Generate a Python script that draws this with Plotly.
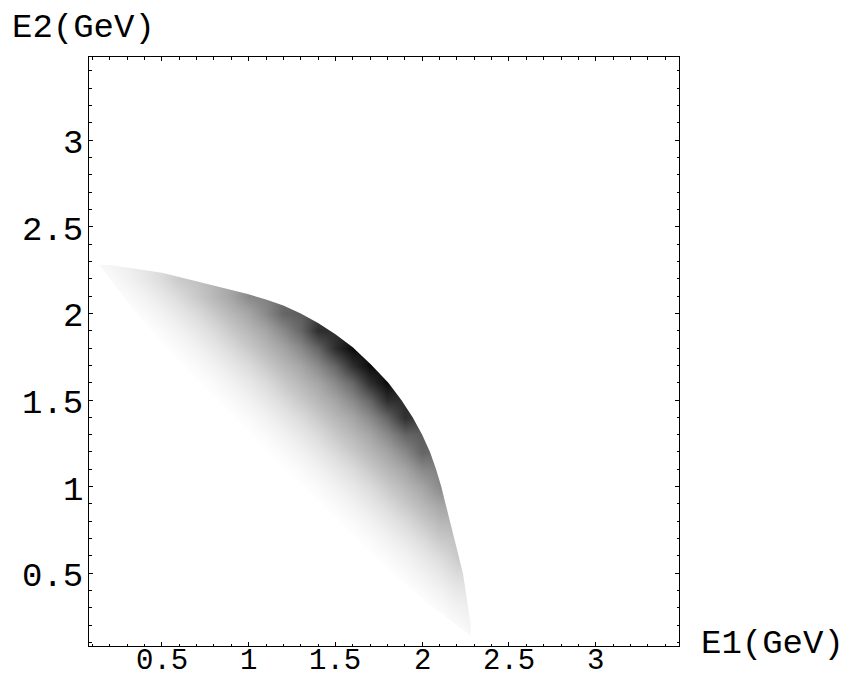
import plotly.graph_objects as go

# Grid of the density plot (GeV)
e1_grid = [0.1, 0.2, 0.3, 0.4, 0.5, 0.6, 0.7, 0.8, 0.9, 1.0, 1.1, 1.2,
           1.3, 1.4, 1.5, 1.6, 1.7, 1.8, 1.9, 2.0, 2.1, 2.2, 2.3, 2.4]
e2_grid = [0.1, 0.2, 0.3, 0.4, 0.5, 0.6, 0.7, 0.8, 0.9, 1.0, 1.1, 1.2,
           1.3, 1.4, 1.5, 1.6, 1.7, 1.8, 1.9, 2.0, 2.1, 2.2, 2.3, 2.4]

ramp = [0.0, 0.02, 0.05, 0.09, 0.14, 0.21, 0.28, 0.35, 0.46, 0.60, 0.82, 0.96]

N = None
# rows follow e2_grid, columns follow e1_grid; None = outside the region
density = [
    [0]*22 + [N]*2,
    [0]*21 + ramp[1:2] + [N]*2,
    [0]*20 + ramp[1:3] + [N]*2,
    [0]*18 + ramp[0:4] + [N]*2,
    [0]*17 + ramp[0:5] + [N]*2,
    [0]*16 + ramp[0:6] + [N]*2,
    [0]*15 + ramp[0:6] + [N]*3,
    [0]*14 + ramp[0:7] + [N]*3,
    [0]*13 + ramp[0:8] + [N]*3,
    [0]*12 + ramp[0:9] + [N]*3,
    [0]*11 + ramp[0:9] + [N]*4,
    [0]*10 + ramp[0:10] + [N]*4,
    [0]*9 + ramp[0:10] + [N]*5,
    [0]*8 + ramp[0:11] + [N]*5,
    [0]*7 + ramp[0:11] + [N]*6,
    [0]*6 + ramp[0:12] + [N]*6,
    [0]*5 + ramp[0:12] + [N]*7,
    [0]*4 + ramp[0:12] + [N]*8,
    [0]*3 + ramp[0:11] + [N]*10,
    [0]*3 + ramp[1:10] + [N]*12,
    [0]*2 + ramp[1:9] + [N]*14,
    [0]*1 + ramp[1:6] + [N]*18,
    [N]*24,
    [N]*24,
]

# outer (kinematic) boundary of the populated region
outer_e1 = [0.14, 0.20, 0.30, 0.40, 0.50, 0.60, 0.70, 0.80, 0.90, 1.00, 1.10,
            1.20, 1.30, 1.40, 1.50, 1.60, 1.705, 1.805, 1.88, 1.945, 2.00,
            2.045, 2.08, 2.11, 2.135, 2.16, 2.185, 2.21, 2.235, 2.25, 2.265,
            2.28, 2.28]
outer_e2 = [2.28, 2.28, 2.265, 2.25, 2.235, 2.21, 2.185, 2.16, 2.135, 2.11,
            2.08, 2.045, 2.00, 1.945, 1.88, 1.805, 1.705, 1.60, 1.50, 1.40,
            1.30, 1.20, 1.10, 1.00, 0.90, 0.80, 0.70, 0.60, 0.50, 0.40, 0.30,
            0.20, 0.14]
# inner (faint) boundary
inner_e1 = [0.14, 0.32, 0.60, 1.155, 1.72, 2.04, 2.28]
inner_e2 = [2.28, 2.04, 1.72, 1.155, 0.60, 0.32, 0.14]

tick_vals = [0.5, 1, 1.5, 2, 2.5, 3]
tick_text = ["0.5", "1", "1.5", "2", "2.5", "3"]
axis_range = [0.08, 3.48]

FONT = "Liberation Mono, Courier New, monospace"
FS = 34
FAR = 9

fig = go.Figure()
fig.add_trace(go.Heatmap(
    x=e1_grid, y=e2_grid, z=density,
    zmin=0, zmax=1, zsmooth="best", connectgaps=True,
    colorscale=[[0, "rgb(255,255,255)"], [1, "rgb(0,0,0)"]],
    showscale=False, hoverinfo="skip",
))
# white cover outside the outer boundary
fig.add_trace(go.Scatter(
    x=outer_e1 + [outer_e1[-1], FAR, FAR, -FAR, -FAR],
    y=outer_e2 + [-FAR, -FAR, FAR, FAR, outer_e2[0]],
    mode="lines", fill="toself", fillcolor="white",
    line=dict(width=0, color="white"), hoverinfo="skip", showlegend=False,
))
# white cover below the inner boundary
fig.add_trace(go.Scatter(
    x=inner_e1 + [inner_e1[-1], -FAR, -FAR],
    y=inner_e2 + [-FAR, -FAR, inner_e2[0]],
    mode="lines", fill="toself", fillcolor="white",
    line=dict(width=0, color="white"), hoverinfo="skip", showlegend=False,
))

axis_common = dict(
    range=axis_range, tickmode="array", tickvals=tick_vals,
    showticklabels=False,
    ticks="inside", ticklen=4, tickwidth=1, tickcolor="black",
    minor=dict(ticks="inside", ticklen=2.5, tickwidth=1, tickcolor="black",
               tick0=0, dtick=0.1, showgrid=False),
    showline=True, linecolor="black", linewidth=1, mirror="ticks",
    showgrid=False, zeroline=False, automargin=False,
    fixedrange=True,
)
fig.update_xaxes(**axis_common)
fig.update_yaxes(**axis_common)

label_font = dict(family=FONT, size=FS, color="black")
xtick_font = dict(family=FONT, size=29, color="black")
annotations = [
    dict(text="E2(GeV)", xref="paper", yref="paper",
         x=(10 - 89) / 590, y=(646 - 28) / 589,
         xanchor="left", yanchor="middle", showarrow=False, font=label_font),
    dict(text="E1(GeV)", xref="paper", yref="paper",
         x=(699 - 89) / 590, y=(646 - 644) / 589,
         xanchor="left", yanchor="middle", showarrow=False, font=label_font),
]
# tick labels
for v, t in zip(tick_vals, tick_text):
    annotations.append(dict(text=t, xref="x", yref="paper", x=v,
                            y=(646 - 661) / 589, xanchor="center",
                            yanchor="middle", showarrow=False, font=xtick_font))
    annotations.append(dict(text=t, xref="paper", yref="y", x=(85 - 89) / 590,
                            y=v, yshift=-4, xanchor="right", yanchor="middle",
                            showarrow=False, font=label_font))

# page body has an 8px offset; plot area placed at window x 89..679, y 57..646
fig.update_layout(
    width=842, height=671,
    margin=dict(l=81, r=171, t=49, b=33, autoexpand=False),
    paper_bgcolor="white", plot_bgcolor="white",
    showlegend=False,
    annotations=annotations,
)

fig.write_html("out.html")
